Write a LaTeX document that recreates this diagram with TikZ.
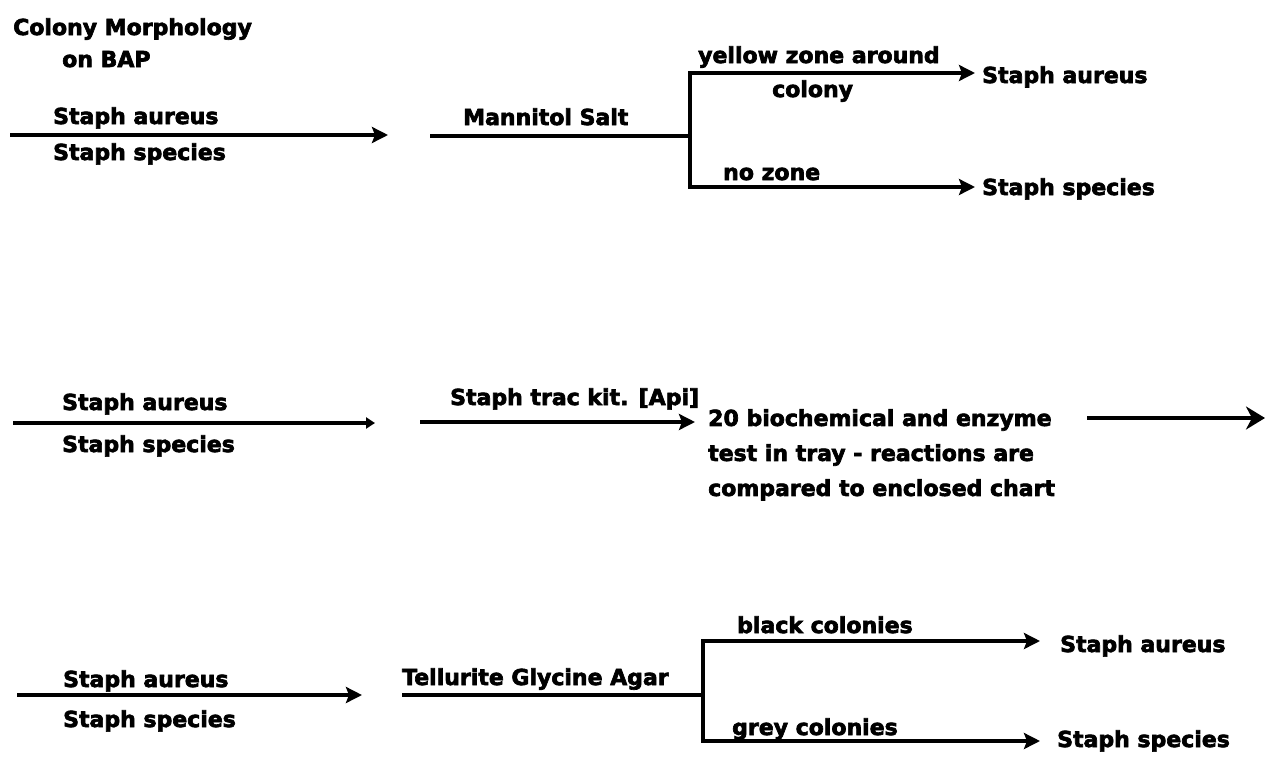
\documentclass[tikz,border=0pt]{standalone}
\usepackage{fontspec}
\setmainfont{DejaVu Sans}[BoldFont={DejaVu Sans Bold},BoldFeatures={FakeBold=3}]
\usepackage{tikz}
\usetikzlibrary{arrows.meta,positioning}

\begin{document}
\begin{tikzpicture}[
  x=1pt,y=-1pt,
  font=\fontsize{22}{35}\selectfont\bfseries,
  txt/.style={anchor=base west,inner sep=0pt},
  blocktxt/.style={anchor=north west,inner sep=0pt,align=left},
  ln/.style={line width=3.6pt},
  arr/.style={ln,-{Stealth[length=16pt,width=16pt,inset=3pt]}},
  bigarr/.style={ln,-{Stealth[length=19pt,width=23pt,inset=6pt]}},
  smallarr/.style={ln,-{Triangle[length=9pt,width=11pt]}}
]
\useasboundingbox (0,0) rectangle (1277,758);

\node[txt] (title) at (13,35) {Colony Morphology};
\node[txt] (bap)   at (62,67) {on BAP};

\coordinate (r1s) at (10,135);
\coordinate (r1e) at (388,135);
\node[txt] (r1au) at (53,124) {Staph aureus};
\node[txt] (r1sp) at (53,160) {Staph species};
\draw[arr] (r1s) -- (r1e);

\node[txt] (msalt) at (463,125) {Mannitol Salt};
\coordinate (msin)  at (430,136);
\coordinate (msfork) at (690,136);
\coordinate (msup)  at (975,73);
\coordinate (msdn)  at (975,187);
\draw[ln] (msin) -- (msfork);
\draw[arr] (msfork) |- (msup);
\draw[arr] (msfork) |- (msdn);
\node[txt] (yzone)  at (698,63) {yellow zone around};
\node[txt] (yzone2) at (772,97) {colony};
\node[txt] (nozone) at (723,180) {no zone};
\node[txt] (msau)   at (982,83) {Staph aureus};
\node[txt] (mssp)   at (982,195) {Staph species};

\coordinate (r2s) at (13,423);
\coordinate (r2e) at (375,423);
\node[txt] (r2au) at (62,410) {Staph aureus};
\node[txt] (r2sp) at (62,452) {Staph species};
\draw[smallarr] (r2s) -- (r2e);

\node[txt] (kit) at (450,405) {Staph trac kit. [Api]};
\coordinate (kitin)  at (420,422);
\coordinate (kitout) at (695,422);
\draw[arr] (kitin) -- (kitout);
\node[blocktxt] (tray) at (708,409) {20 biochemical and enzyme\\test in tray - reactions are\\compared to enclosed chart};
\coordinate (trayin)  at (1087,418);
\coordinate (trayout) at (1265,418);
\draw[bigarr] (trayin) -- (trayout);

\coordinate (r3s) at (17,695);
\coordinate (r3e) at (362,695);
\node[txt] (r3au) at (63,687) {Staph aureus};
\node[txt] (r3sp) at (63,727) {Staph species};
\draw[arr] (r3s) -- (r3e);

\node[txt] (tga) at (402,685) {Tellurite Glycine Agar};
\coordinate (tgain)   at (402,695);
\coordinate (tgafork) at (703,695);
\coordinate (tgaup)   at (1040,641);
\coordinate (tgadn)   at (1040,741);
\draw[ln] (tgain) -- (tgafork);
\draw[arr] (tgafork) |- (tgaup);
\draw[arr] (tgafork) |- (tgadn);
\node[txt] (black) at (737,633) {black colonies};
\node[txt] (grey)  at (732,735) {grey colonies};
\node[txt] (tgaau) at (1060,652) {Staph aureus};
\node[txt] (tgasp) at (1057,747) {Staph species};
\end{tikzpicture}
\end{document}
